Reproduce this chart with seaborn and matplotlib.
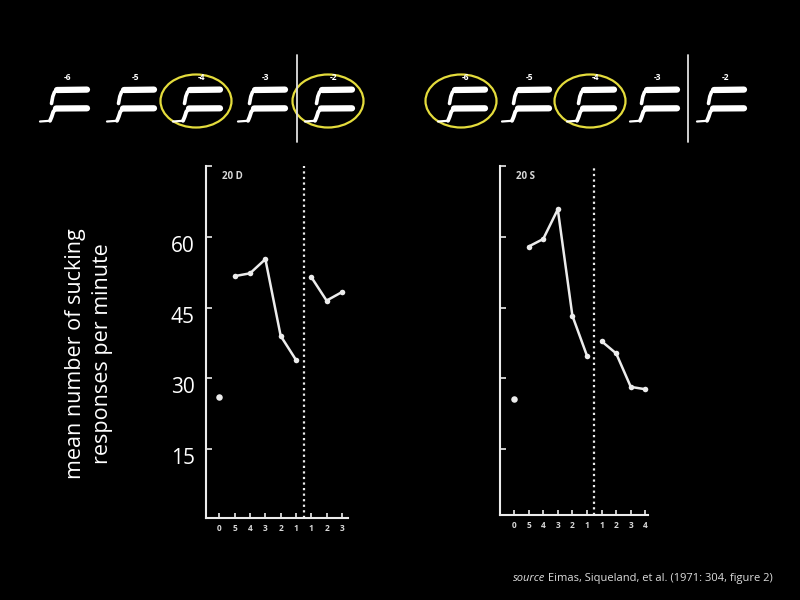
import matplotlib
matplotlib.use("Agg")
import matplotlib.pyplot as plt
from matplotlib.patches import Ellipse
from matplotlib.transforms import ScaledTranslation
import numpy as np
import pandas as pd
import seaborn as sns

# Eimas et al. (1971) - mean sucking responses per minute
# x position: 0 = baseline, 1..5 = minutes before shift, 6.. = minutes after shift
pre_x = [1, 2, 3, 4, 5]
d_pre = [51.7, 52.3, 55.3, 39.0, 33.9]
d_post_x = [6, 7, 8]
d_post = [51.5, 46.5, 48.3]
d_base = 26.0

s_pre = [58.0, 59.6, 65.9, 43.3, 34.8]
s_post_x = [6, 7, 8, 9]
s_post = [37.9, 35.3, 28.2, 27.7]
s_base = 25.6

shift_x = 5.5
d_xlabels = ["0", "5", "4", "3", "2", "1", "1", "2", "3"]
s_xlabels = ["0", "5", "4", "3", "2", "1", "1", "2", "3", "4"]
y_ticks = [15, 30, 45, 60, 75]
y_labels = ["15", "30", "45", "60", ""]

# stimulus continuum drawn above the panels
vot_labels = ["-6", "-5", "-4", "-3", "-2"]
left_circled = [False, False, True, False, True]
right_circled = [True, False, True, False, False]

sns.set_theme(style="dark")
plt.rcParams["font.family"] = ["Open Sans", "DejaVu Sans"]

fg = "#ececec"
fig = plt.figure(figsize=(8, 6), dpi=100, facecolor="black")


def panel(rect, ylim, xlim, pre, post_x, post, base, xlabels, tag):
    ax = fig.add_axes(rect)
    ax.set_facecolor("black")
    sns.lineplot(x=pre_x, y=pre, ax=ax, color=fg, lw=1.8, marker="o",
                 markersize=4, markeredgewidth=0)
    sns.lineplot(x=post_x, y=post, ax=ax, color=fg, lw=1.8, marker="o",
                 markersize=4, markeredgewidth=0)
    sns.scatterplot(x=[0], y=[base], ax=ax, color=fg, s=22, linewidth=0)
    ax.axvline(shift_x, color=fg, lw=1.6, ls=(0, (1, 1.5)))
    ax.set_ylim(*ylim)
    ax.set_xlim(*xlim)
    ax.set_xticks(range(len(xlabels)))
    ax.set_xticklabels(xlabels)
    ax.set_yticks(y_ticks)
    for side in ["top", "right"]:
        ax.spines[side].set_visible(False)
    for side in ["left", "bottom"]:
        ax.spines[side].set_visible(True)
        ax.spines[side].set_color(fg)
        ax.spines[side].set_linewidth(1.5)
    ax.tick_params(axis="x", direction="in", length=3.5, width=1.2, color=fg,
                   labelsize=6, labelcolor="#d8d8d8", pad=4, bottom=True)
    ax.tick_params(axis="y", direction="in", length=4, width=1.2, color=fg,
                   labelsize=15, labelcolor="white", pad=8, left=True)
    for lab in ax.get_xticklabels():
        lab.set_fontweight("bold")
    ax.text(0.11, 0.97, tag, transform=ax.transAxes, fontsize=7,
            fontweight="bold", color="#d8d8d8", ha="left", va="center")
    ax.grid(False)
    return ax


ax1 = panel([206 / 800, 1 - 518 / 600, 142 / 800, 352 / 600], (0.3, 75.1),
            (-0.88, 8.4), d_pre, d_post_x, d_post, d_base, d_xlabels, "20 D")
ax1.set_yticklabels(y_labels)
for lab in ax1.get_yticklabels():
    lab.set_transform(lab.get_transform()
                      + ScaledTranslation(0, -7 / 100, fig.dpi_scale_trans))

ax2 = panel([500 / 800, 1 - 515 / 600, 148 / 800, 349 / 600], (1.0, 75.1),
            (-0.96, 9.18), s_pre, s_post_x, s_post, s_base, s_xlabels, "20 S")
ax2.set_yticklabels([])

# overlay in pixel coordinates for the stimulus schematics
ov = fig.add_axes([0, 0, 1, 1], zorder=-1)
ov.set_xlim(0, 800)
ov.set_ylim(600, 0)
ov.axis("off")
ov.patch.set_alpha(0)

voice = np.array([[0, 34.5], [10, 33.8]])
f1_tr = np.array([[10, 33.8], [11.7, 29.7], [13.3, 24.7], [16, 21.5]])
f1_bar = np.array([[16, 21.5], [47, 21.3]])
f2_tr = np.array([[11.5, 16.5], [12.8, 9.5], [14.5, 5], [17, 3]])
f2_bar = np.array([[17, 3], [47, 2.6]])


def glyph(x0, y0):
    for seg, lw in [(voice, 1.6), (f1_tr, 2.8), (f1_bar, 4.5),
                    (f2_tr, 2.6), (f2_bar, 4.5)]:
        ov.plot(seg[:, 0] + x0, seg[:, 1] + y0, color="white", lw=lw,
                solid_capstyle="round", solid_joinstyle="round")


def row(starts, circled, sep_x):
    for x0, lab, circ in zip(starts, vot_labels, circled):
        glyph(x0, 87)
        ov.text(x0 + 28, 77, lab, fontsize=6, color="white",
                fontweight="bold", ha="center", va="center")
        if circ:
            ov.add_patch(Ellipse((x0 + 23, 101), 71, 53, fill=False,
                                 edgecolor="#e4dc3c", lw=1.6))
    ov.plot([sep_x, sep_x], [55, 142], color="#e0e0e0", lw=1.3)


row([40, 107, 173, 238, 305], left_circled, 297)
row([438, 502, 567, 630, 697], right_circled, 688)

fig.text(89 / 800, 1 - 354 / 600,
         "mean number of sucking\nresponses per minute",
         rotation=90, ha="center", va="center", multialignment="center",
         fontsize=15.5, color="white", linespacing=1.38)

t1 = fig.text(513 / 800, 1 - 584 / 600, "source", fontsize=8,
              style="italic", color="#dddddd", ha="left", va="bottom")
plt.annotate(" Eimas, Siqueland, et al. (1971: 304, figure 2)",
             xy=(1, 0), xycoords=t1, ha="left", va="bottom",
             fontsize=8, color="#dddddd", annotation_clip=False)

fig.savefig("out.png", dpi=100, facecolor="black")
